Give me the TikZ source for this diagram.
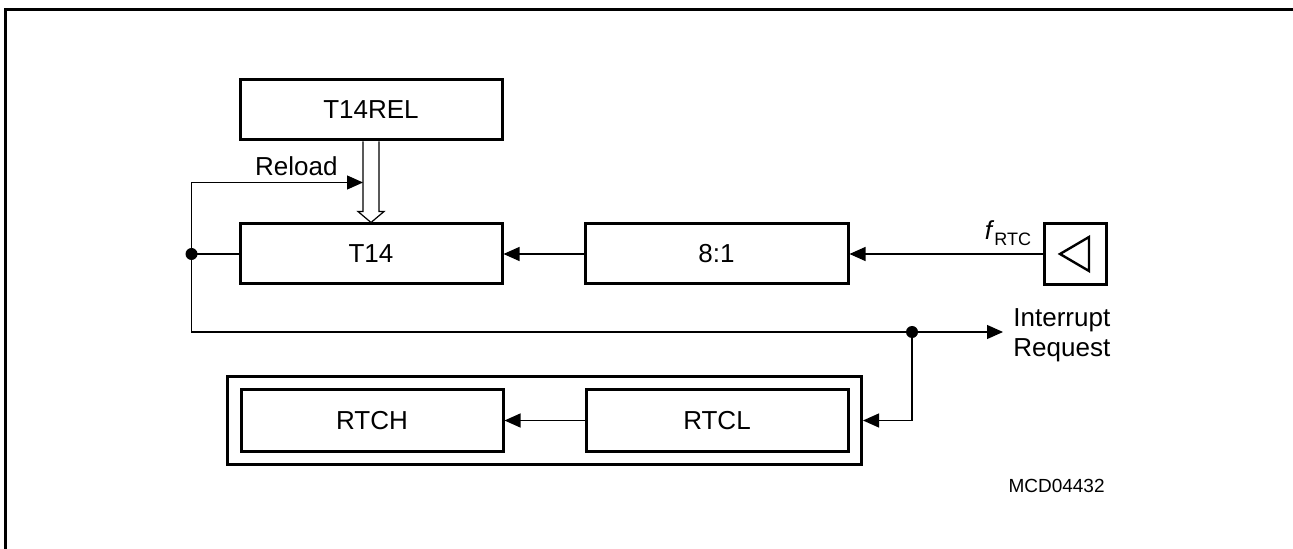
\documentclass[tikz,border=0pt]{standalone}
\usepackage{fontspec}
\setmainfont{Liberation Sans}
\usetikzlibrary{arrows.meta,positioning,calc,fit}

\begin{document}
\begin{tikzpicture}[
  x=0.5pt, y=-0.5pt,
  node distance=40pt,
  reg/.style={draw, line width=1.5pt, minimum width=131pt, minimum height=30pt,
              inner sep=0pt, font=\fontsize{13}{15}\selectfont},
  lbl/.style={font=\fontsize{13}{15}\selectfont, inner sep=0pt},
  wire/.style={line width=0.6pt},
  arr/.style={wire, -{Triangle[length=8pt,width=7pt]}},
  dot/.style={circle, fill, inner sep=0pt, minimum size=6pt}
]
\useasboundingbox (0,0) rectangle (1293,549);
\draw[line width=1.5pt] (5,549) -- (5,10) -- (1293,10);

\node[reg] (t14) at (371,254) {T14};
\node[reg, above=40.5pt of t14] (rel) {T14REL};
\node[reg, right=40pt of t14, minimum width=131.5pt] (div) {8:1};
\node[draw, line width=1.5pt, minimum width=31pt, minimum height=30.5pt] (osc) at (1075,254) {};
\draw[line width=1.2pt] ($(osc.center)+(-15,0)$) -- ($(osc.center)+(14,-17)$)
  -- ($(osc.center)+(14,17)$) -- cycle;

\node[reg, minimum height=30.5pt] (rtch) at (372,420.5) {RTCH};
\node[reg, minimum height=30.5pt, right=40pt of rtch] (rtcl) {RTCL};
\node[draw, line width=1.5pt, inner sep=6pt, fit=(rtch)(rtcl)] (rtc) {};

\draw[wire, fill=white] ($(rel.south)+(-8,0)$) -- ($(t14.north)+(-8,-11)$)
  -- ($(t14.north)+(-13,-11)$) -- (t14.north) -- ($(t14.north)+(13,-11)$)
  -- ($(t14.north)+(8,-11)$) -- ($(rel.south)+(8,0)$);

\coordinate (jl) at ($(t14.west)+(-47,0)$);
\coordinate (rtip) at ($(rel.south)+(-8,41)$);
\coordinate (jr) at (912,332);
\coordinate (irq) at (1003,332);

\draw[arr] (osc) -- (div);
\draw[arr] (div) -- (t14);
\draw[arr] (rtcl) -- (rtch);
\draw[arr] (jl) |- (rtip);
\draw[wire] (jl) -- (t14);
\draw[wire] (jl) |- (jr);
\draw[arr] (jr) -- (irq);
\draw[arr] (jr) |- (rtc);
\node[dot] at (jl) {};
\node[dot] at (jr) {};

\node[lbl, anchor=base east] (reltxt) at ($(rtip)+(-25,-7)$) {Reload};
\node[lbl, anchor=base east] (ftxt) at ($(osc.west)+(-11,-14)$)
  {\textit{f}\raisebox{-3pt}{\fontsize{9}{10}\selectfont RTC}};
\node[lbl, anchor=west, align=left] (irqtxt) at (1013,335) {Interrupt\\Request};
\node[font=\fontsize{9.5}{11}\selectfont, anchor=base east, inner sep=0pt] (code)
  at (1105,492) {MCD04432};
\end{tikzpicture}
\end{document}
